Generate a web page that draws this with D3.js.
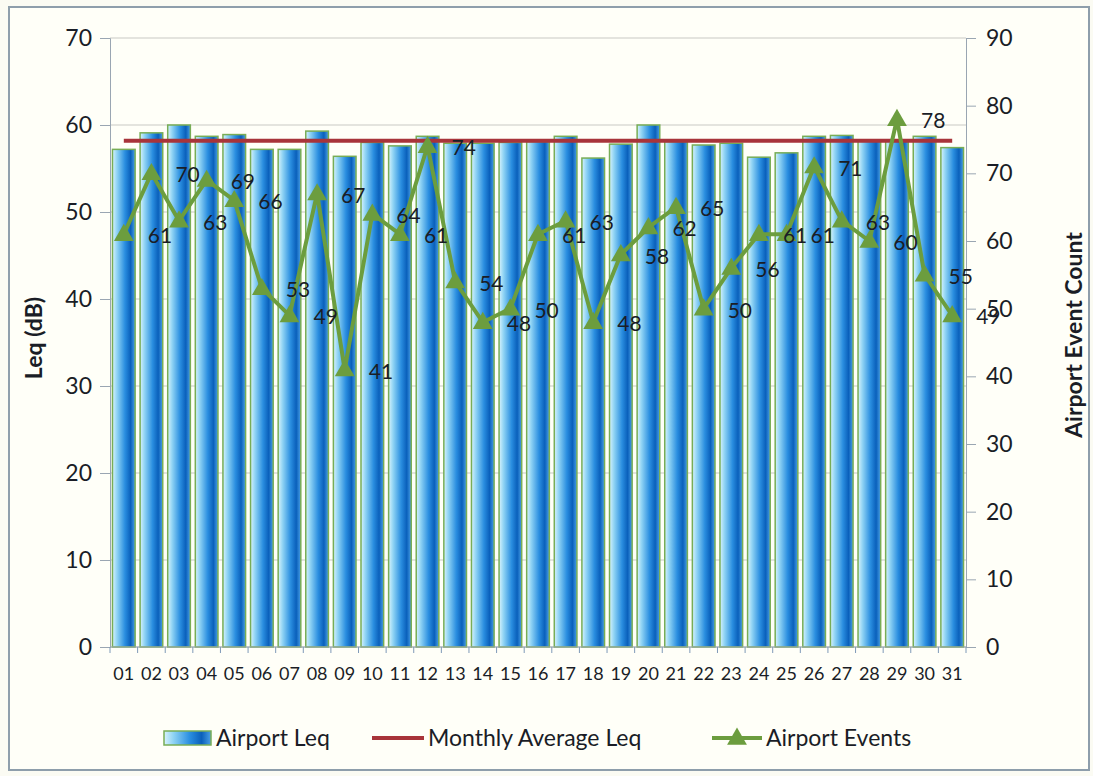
<!DOCTYPE html>
<html>
<head>
<meta charset="utf-8">
<script src="https://cdn.jsdelivr.net/npm/d3@7"></script>
<style>
  body { margin: 0; background: #fbfbf3; }
  text { font-family: Lato, "Open Sans", sans-serif; fill: #1a1d26; }
</style>
</head>
<body>
<div id="vis"></div>
<script>
var width = 1093,
    height = 776;

// data
var days = ["01","02","03","04","05","06","07","08","09","10","11","12","13","14","15","16",
            "17","18","19","20","21","22","23","24","25","26","27","28","29","30","31"];
var airportLeq = [57.2, 59.1, 60.0, 58.7, 58.9, 57.2, 57.2, 59.3, 56.4, 58.0, 57.6, 58.7, 57.9, 57.9, 58.0, 58.1,
                  58.7, 56.2, 57.8, 60.0, 58.1, 57.7, 57.9, 56.3, 56.8, 58.7, 58.8, 58.3, 58.3, 58.7, 57.4];
var airportEvents = [61, 70, 63, 69, 66, 53, 49, 67, 41, 64, 61, 74, 54, 48, 50, 61,
                     63, 48, 58, 62, 65, 50, 56, 61, 61, 71, 63, 60, 78, 55, 49];
var monthlyAvgLeq = 58.2;
var leqTicks = [0, 10, 20, 30, 40, 50, 60, 70];
var eventTicks = [0, 10, 20, 30, 40, 50, 60, 70, 80, 90];

var plot = {left: 110, right: 966, top: 38, bottom: 647};

var svg = d3.select("#vis").append("svg")
    .attr("width", width)
    .attr("height", height);

var defs = svg.append("defs");
var grad = defs.append("linearGradient")
    .attr("id", "barGrad")
    .attr("x1", "0%").attr("x2", "100%").attr("y1", "0%").attr("y2", "0%");
[["0%", "#d8f3fc"], ["20%", "#8fd3f4"], ["55%", "#2a8ee0"], ["80%", "#0a60bb"], ["100%", "#4aa0e6"]]
  .forEach(function(s) { grad.append("stop").attr("offset", s[0]).attr("stop-color", s[1]); });

// chart frame
svg.append("rect")
    .attr("x", 9).attr("y", 7)
    .attr("width", 1080).attr("height", 763)
    .attr("fill", "#fffff8")
    .attr("stroke", "#8e9eab")
    .attr("stroke-width", 2);

var x = d3.scaleBand()
    .domain(days)
    .range([plot.left, plot.right])
    .paddingInner(0.18)
    .paddingOuter(0.09);

var y = d3.scaleLinear().domain([0, 70]).range([plot.bottom, plot.top]);
var y2 = d3.scaleLinear().domain([0, 90]).range([plot.bottom, plot.top]);

var cx = function(d) { return x(d) + x.bandwidth() / 2; };

// gridlines
svg.append("g").selectAll("line")
    .data(leqTicks)
    .enter().append("line")
    .attr("x1", plot.left).attr("x2", plot.right)
    .attr("y1", function(d) { return y(d); })
    .attr("y2", function(d) { return y(d); })
    .attr("stroke", "#c9c9c4")
    .attr("stroke-width", 1);

// left axis
var leftAxis = svg.append("g")
    .attr("transform", "translate(" + plot.left + ",0)")
    .call(d3.axisLeft(y).tickValues(leqTicks).tickSize(10).tickPadding(8));
leftAxis.select(".domain").attr("stroke", "#9aa6b2");
leftAxis.selectAll(".tick line").attr("stroke", "#9aa6b2");
leftAxis.selectAll("text").style("font-size", "23px").attr("fill", "#1a1d26");

// right axis
var rightAxis = svg.append("g")
    .attr("transform", "translate(" + plot.right + ",0)")
    .call(d3.axisRight(y2).tickValues(eventTicks).tickSize(10).tickPadding(10));
rightAxis.select(".domain").attr("stroke", "#9aa6b2");
rightAxis.selectAll(".tick line").attr("stroke", "#9aa6b2");
rightAxis.selectAll("text").style("font-size", "23px").attr("fill", "#1a1d26");

// bars
svg.append("g").selectAll("rect")
    .data(days)
    .enter().append("rect")
    .attr("x", function(d) { return x(d); })
    .attr("width", x.bandwidth())
    .attr("y", function(d, i) { return y(airportLeq[i]); })
    .attr("height", function(d, i) { return plot.bottom - y(airportLeq[i]); })
    .attr("fill", "url(#barGrad)")
    .attr("stroke", "#78ad56")
    .attr("stroke-width", 1.5);

// bottom axis
var step = x.step();
var bottom = svg.append("g");
bottom.append("line")
    .attr("x1", plot.left).attr("x2", plot.right)
    .attr("y1", plot.bottom).attr("y2", plot.bottom)
    .attr("stroke", "#9aa6b2");
bottom.selectAll(".tk")
    .data(d3.range(days.length + 1))
    .enter().append("line")
    .attr("x1", function(k) { return plot.left + k * step; })
    .attr("x2", function(k) { return plot.left + k * step; })
    .attr("y1", plot.bottom).attr("y2", plot.bottom + 6)
    .attr("stroke", "#7f9ab8");
bottom.selectAll("text")
    .data(days)
    .enter().append("text")
    .attr("x", cx)
    .attr("y", plot.bottom + 33)
    .attr("text-anchor", "middle")
    .style("font-size", "18px")
    .text(function(d) { return d; });

// monthly average line
svg.append("line")
    .attr("x1", cx(days[0])).attr("x2", cx(days[days.length - 1]))
    .attr("y1", y(monthlyAvgLeq)).attr("y2", y(monthlyAvgLeq))
    .attr("stroke", "#a8343a")
    .attr("stroke-width", 4);

// events line
var line = d3.line()
    .x(function(d, i) { return cx(days[i]); })
    .y(function(d) { return y2(d); });

svg.append("path")
    .datum(airportEvents)
    .attr("d", line)
    .attr("fill", "none")
    .attr("stroke", "#6c9d3e")
    .attr("stroke-width", 4)
    .attr("stroke-linejoin", "round");

var tri = d3.symbol().type(d3.symbolTriangle).size(170);
svg.append("g").selectAll("path")
    .data(airportEvents)
    .enter().append("path")
    .attr("d", tri)
    .attr("transform", function(d, i) { return "translate(" + cx(days[i]) + "," + (y2(d) + 1) + ")"; })
    .attr("fill", "#6c9d3e");

svg.append("g").selectAll("text")
    .data(airportEvents)
    .enter().append("text")
    .attr("x", function(d, i) { return cx(days[i]) + 24; })
    .attr("y", function(d) { return y2(d) + 9; })
    .style("font-size", "21px")
    .text(function(d) { return d; });

// axis titles
svg.append("text")
    .attr("transform", "translate(42,338) rotate(-90)")
    .attr("text-anchor", "middle")
    .style("font-size", "23px")
    .style("font-weight", "bold")
    .text("Leq (dB)");
svg.append("text")
    .attr("transform", "translate(1082,335) rotate(-90)")
    .attr("text-anchor", "middle")
    .style("font-size", "23px")
    .style("font-weight", "bold")
    .text("Airport Event Count");

// legend
var leg = svg.append("g").attr("transform", "translate(0,738)");
leg.append("rect")
    .attr("x", 164).attr("y", -7).attr("width", 47).attr("height", 14)
    .attr("fill", "url(#barGrad)")
    .attr("stroke", "#78ad56").attr("stroke-width", 1.5);
leg.append("text").attr("x", 216).attr("y", 8).style("font-size", "23px").text("Airport Leq");

leg.append("line")
    .attr("x1", 372).attr("x2", 424).attr("y1", 0).attr("y2", 0)
    .attr("stroke", "#a8343a").attr("stroke-width", 4);
leg.append("text").attr("x", 428).attr("y", 8).style("font-size", "23px").text("Monthly Average Leq");

leg.append("line")
    .attr("x1", 712).attr("x2", 762).attr("y1", 0).attr("y2", 0)
    .attr("stroke", "#6c9d3e").attr("stroke-width", 4);
leg.append("path")
    .attr("d", tri)
    .attr("transform", "translate(737,1)")
    .attr("fill", "#6c9d3e");
leg.append("text").attr("x", 766).attr("y", 8).style("font-size", "23px").text("Airport Events");
</script>
</body>
</html>
